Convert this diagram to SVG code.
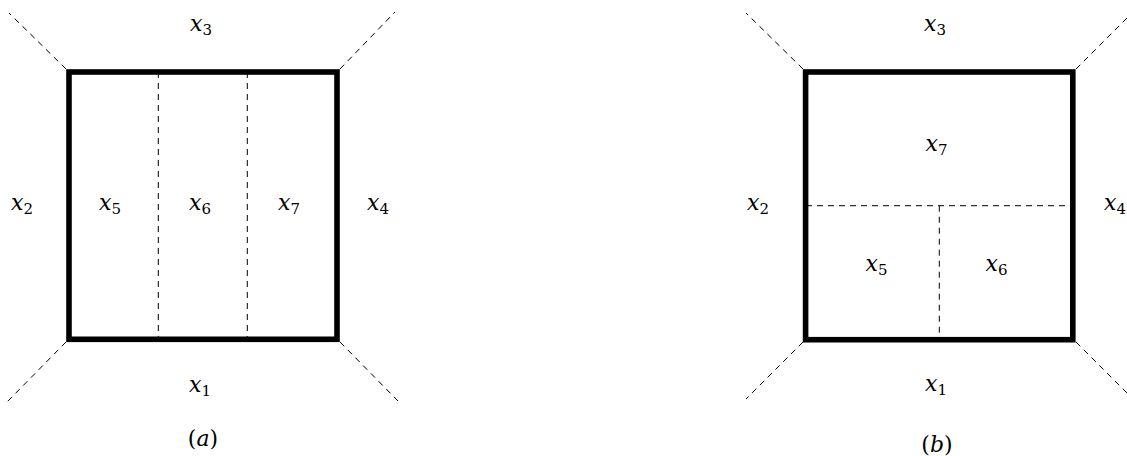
<svg xmlns="http://www.w3.org/2000/svg" width="1127" height="456" viewBox="0 0 1127 456">
<style>
.box{fill:none;stroke:#000;stroke-width:5.6}
.dash{fill:none;stroke:#000;stroke-width:1;stroke-dasharray:6 5}
.t{font-family:'DejaVu Serif',serif;font-size:22px;fill:#000}
.v{font-style:italic}
.s{font-size:15px;font-style:normal}
</style>
<rect width="1127" height="456" fill="#fff"/>
<g id="connectors">
<line class="dash" x1="66" y1="69" x2="9" y2="13"/>
<line class="dash" x1="340" y1="69" x2="395" y2="12"/>
<line class="dash" x1="66" y1="342" x2="7" y2="402"/>
<line class="dash" x1="340" y1="342" x2="398" y2="401"/>
<line class="dash" x1="158.3" y1="72" x2="158.3" y2="339"/>
<line class="dash" x1="247.3" y1="72" x2="247.3" y2="339"/>
<line class="dash" x1="803" y1="69" x2="746" y2="13"/>
<line class="dash" x1="1076" y1="69" x2="1133" y2="12"/>
<line class="dash" x1="803" y1="342" x2="746" y2="399"/>
<line class="dash" x1="1076" y1="342" x2="1133" y2="399"/>
<line class="dash" x1="806" y1="205.7" x2="1073" y2="205.7"/>
<line class="dash" x1="939.3" y1="205.7" x2="939.3" y2="339"/>
</g>
<g id="panel-a">
<rect class="box" x="69" y="72" width="268" height="267.3"/>
<text class="t" x="190" y="31"><tspan class="v">x</tspan><tspan class="s" dy="4">3</tspan></text>
<text class="t" x="189" y="392"><tspan class="v">x</tspan><tspan class="s" dy="4">1</tspan></text>
<text class="t" x="11" y="209.5"><tspan class="v">x</tspan><tspan class="s" dy="4">2</tspan></text>
<text class="t" x="99" y="209.5"><tspan class="v">x</tspan><tspan class="s" dy="4">5</tspan></text>
<text class="t" x="189" y="209.5"><tspan class="v">x</tspan><tspan class="s" dy="4">6</tspan></text>
<text class="t" x="278" y="209.5"><tspan class="v">x</tspan><tspan class="s" dy="4">7</tspan></text>
<text class="t" x="367" y="209.5"><tspan class="v">x</tspan><tspan class="s" dy="4">4</tspan></text>
<text class="t" x="203" y="446" text-anchor="middle">(<tspan class="v">a</tspan>)</text>
</g>
<g id="panel-b">
<rect class="box" x="805.6" y="72" width="267.2" height="267.7"/>
<text class="t" x="924" y="31"><tspan class="v">x</tspan><tspan class="s" dy="4">3</tspan></text>
<text class="t" x="925.5" y="151"><tspan class="v">x</tspan><tspan class="s" dy="4">7</tspan></text>
<text class="t" x="747" y="209.5"><tspan class="v">x</tspan><tspan class="s" dy="4">2</tspan></text>
<text class="t" x="1104" y="209.5"><tspan class="v">x</tspan><tspan class="s" dy="4">4</tspan></text>
<text class="t" x="865.5" y="271"><tspan class="v">x</tspan><tspan class="s" dy="4">5</tspan></text>
<text class="t" x="985.5" y="271"><tspan class="v">x</tspan><tspan class="s" dy="4">6</tspan></text>
<text class="t" x="925" y="391"><tspan class="v">x</tspan><tspan class="s" dy="4">1</tspan></text>
<text class="t" x="937" y="452" text-anchor="middle">(<tspan class="v">b</tspan>)</text>
</g>
</svg>
